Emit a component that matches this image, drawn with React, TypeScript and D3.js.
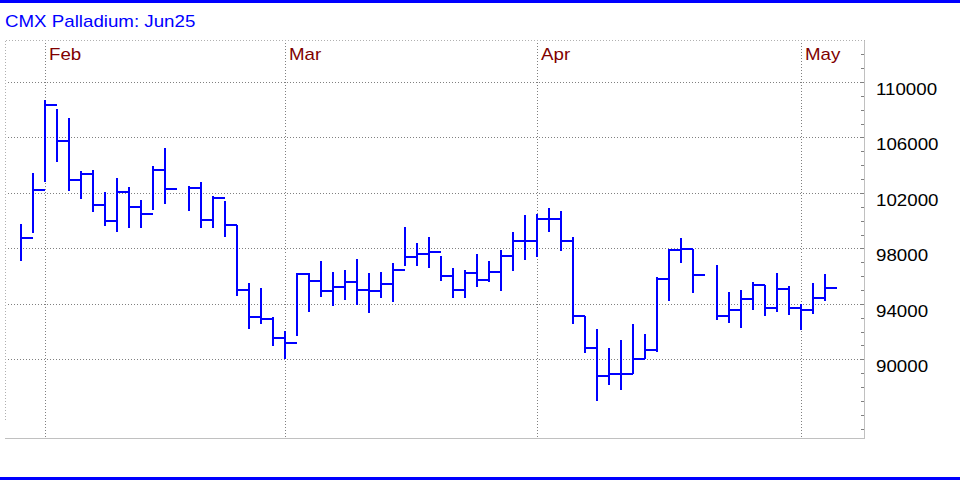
import React from "react";
import * as d3 from "d3";

const title = "CMX Palladium: Jun25";
const monthLabels = ["Feb", "Mar", "Apr", "May"];
const monthStartIndex = [2, 22, 43, 65];
const yTicks = [90000, 94000, 98000, 102000, 106000, 110000];

const highs: (number | null)[] = [99750,103410,108700,108030,107400,103600,103650,102060,103050,102420,101480,103940,105240,null,102510,102760,101790,101410,99700,95470,95110,93060,92020,96250,96190,97060,96280,96410,97200,96190,96280,96930,99510,98380,98810,97440,96570,96410,97580,97080,97850,99150,100400,100450,100880,100670,98830,93130,92220,90850,91420,92510,91860,95970,97960,98720,97980,null,96790,94840,94980,95560,95390,96210,95320,94020,95490,96140];
const lows: (number | null)[] = [97100,99120,102800,104250,102150,101530,100640,99630,99190,99480,99480,100780,101230,null,100710,99480,99480,98830,94530,92150,92510,90960,90000,91680,93420,94500,93830,94280,93920,93340,94430,94140,96740,96740,96590,95680,94430,94430,95220,95580,94930,96380,97170,97390,99190,97820,92510,90480,87020,88170,87780,88940,90000,90530,94240,96980,94800,null,92870,92620,92260,93520,93130,93420,93200,92120,93270,94220];
const closes: (number | null)[] = [98760,102180,108360,105740,102900,103360,101140,99990,102080,101000,100490,103630,102300,null,102370,100020,101650,99700,94980,93060,92890,91540,91180,96170,95650,94960,95220,95580,95000,94960,95440,96450,97390,97560,97750,96020,95000,96260,95700,96330,97460,98540,98540,100130,100130,98540,93130,90820,88800,88940,88940,90000,90670,95800,97870,97940,96080,null,93130,93520,94350,95390,93680,95080,93680,93520,94430,95150];

const W = 960;
const H = 480;
const plotLeft = 5.5;
const plotRight = 864.5;
const plotTop = 40.5;
const plotBottom = 438.5;
const FONT = "'Liberation Sans', Arial, sans-serif";
const SX = 1.17;

function SText(props: { x: number; y: number; fill: string; size: number; children: string }) {
  return (
    <text
      transform={`translate(${props.x},${props.y}) scale(${SX},1)`}
      fill={props.fill}
      fontSize={props.size}
      fontFamily={FONT}
    >
      {props.children}
    </text>
  );
}

export default function App() {
  React.useEffect(() => {
    document.body.style.margin = "0";
  }, []);

  const n = highs.length;
  const x = d3.scaleLinear().domain([0, n - 1]).range([21, 21 + 12 * (n - 1)]);
  const y = d3.scaleLinear().domain([90000, 110000]).range([359.3, 82]);
  const step = x(1) - x(0);

  const minorTicks = d3.range(85000, 113001, 1000).filter((v) => y(v) > plotTop + 2 && y(v) < plotBottom - 2);

  const bars = d3.range(n).filter((i) => highs[i] != null && lows[i] != null && closes[i] != null);

  return (
    <svg width={W} height={H} style={{ position: "absolute", left: 0, top: 0, display: "block" }}>
      <rect x={0} y={0} width={W} height={H} fill="#ffffff" />
      <rect x={0} y={0} width={W} height={3} fill="#0000ff" />
      <rect x={0} y={477} width={W} height={3} fill="#0000ff" />

      <SText x={5} y={27} fill="#0000ff" size={16}>{title}</SText>

      {/* frame */}
      <line x1={plotLeft} x2={plotRight} y1={plotTop} y2={plotTop} stroke="#b0b0b0" strokeDasharray="1,2" shapeRendering="crispEdges" />
      <line x1={plotLeft} x2={plotLeft} y1={plotTop} y2={420} stroke="#b0b0b0" strokeDasharray="1,2" shapeRendering="crispEdges" />
      <line x1={plotRight} x2={plotRight} y1={plotTop} y2={plotBottom + 0.5} stroke="#c0c0c0" shapeRendering="crispEdges" />
      <line x1={plotLeft - 0.5} x2={plotRight} y1={plotBottom} y2={plotBottom} stroke="#c0c0c0" shapeRendering="crispEdges" />

      {/* horizontal grid */}
      {yTicks.map((v) => (
        <line key={"g" + v} x1={plotLeft + 2} x2={861} y1={Math.round(y(v)) + 0.5} y2={Math.round(y(v)) + 0.5}
          stroke="#808080" strokeDasharray="1,2" shapeRendering="crispEdges" />
      ))}
      {/* vertical month grid */}
      {monthStartIndex.map((idx, k) => (
        <g key={"m" + k}>
          <line x1={x(idx) + 0.5} x2={x(idx) + 0.5} y1={plotTop + 2} y2={plotBottom - 1}
            stroke="#808080" strokeDasharray="1,2" shapeRendering="crispEdges" />
          <SText x={x(idx) + 4} y={60} fill="#800000" size={16}>{monthLabels[k]}</SText>
        </g>
      ))}

      {/* minor ticks */}
      {minorTicks.map((v) => (
        <line key={"t" + v} x1={861} x2={864} y1={Math.round(y(v)) + 0.5} y2={Math.round(y(v)) + 0.5}
          stroke="#808080" shapeRendering="crispEdges" />
      ))}

      {/* y labels */}
      {yTicks.map((v) => (
        <SText key={"l" + v} x={876} y={Math.round(y(v)) + 13} fill="#000000" size={16}>{String(v)}</SText>
      ))}

      {/* bars */}
      <g stroke="#0000ff" strokeWidth={2} shapeRendering="crispEdges">
        {bars.map((i) => {
          const cx = x(i);
          const yc = Math.round(y(closes[i] as number));
          return (
            <g key={"b" + i}>
              <line x1={cx} x2={cx} y1={Math.round(y(highs[i] as number))} y2={Math.round(y(lows[i] as number))} />
              <line x1={cx} x2={cx + step} y1={yc} y2={yc} />
            </g>
          );
        })}
      </g>
    </svg>
  );
}
